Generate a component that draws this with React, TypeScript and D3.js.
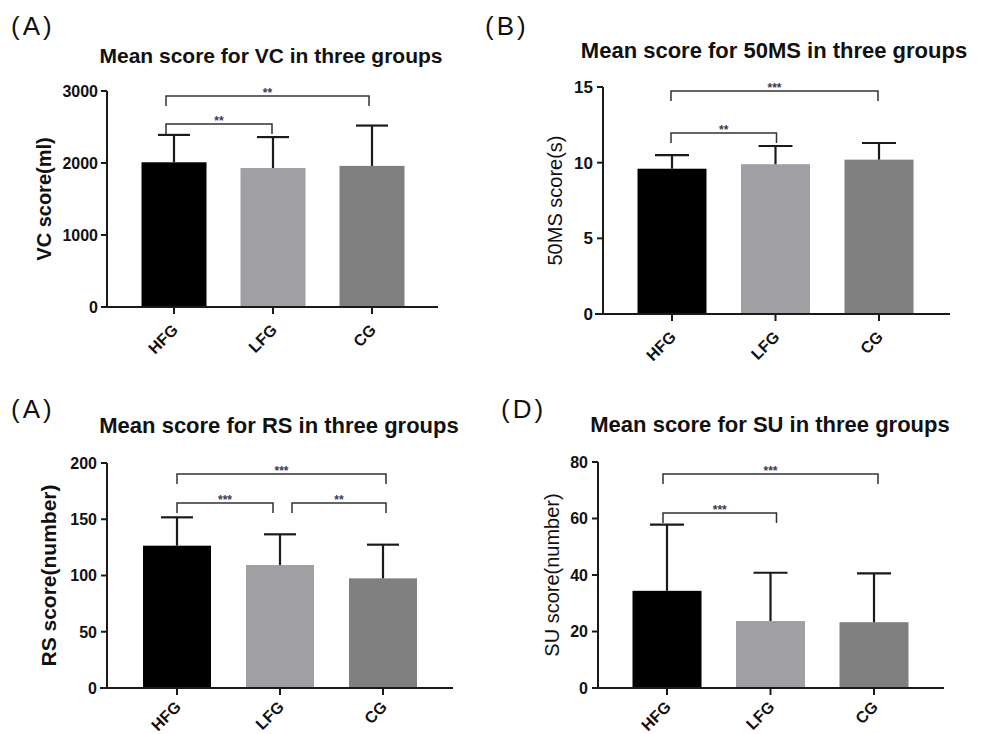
import * as d3 from 'd3';

const groups = ['HFG', 'LFG', 'CG'];
const barColors = ['#000000', '#a0a0a4', '#808080'];

const vcMean = [2010, 1930, 1960];
const vcSD = [380, 430, 560];
const vcTicks = [0, 1000, 2000, 3000];
const vcSig = [{ a: 0, b: 1, stars: '**' }, { a: 0, b: 2, stars: '**' }];

const msMean = [9.6, 9.9, 10.2];
const msSD = [0.9, 1.2, 1.1];
const msTicks = [0, 5, 10, 15];
const msSig = [{ a: 0, b: 1, stars: '**' }, { a: 0, b: 2, stars: '***' }];

const rsMean = [126.5, 109.3, 97.5];
const rsSD = [25.2, 27.3, 29.9];
const rsTicks = [0, 50, 100, 150, 200];
const rsSig = [
  { a: 0, b: 1, stars: '***' },
  { a: 1, b: 2, stars: '**' },
  { a: 0, b: 2, stars: '***' },
];

const suMean = [34.4, 23.7, 23.3];
const suSD = [23.4, 17.1, 17.3];
const suTicks = [0, 20, 40, 60, 80];
const suSig = [{ a: 0, b: 1, stars: '***' }, { a: 0, b: 2, stars: '***' }];

const FONT = 'Liberation Sans, Arial, sans-serif';
const INK = '#1a1a1a';

function Panel({ cfg }) {
  const { mean, sd, ticks, sig, lay } = cfg;
  const y = d3.scaleLinear().domain([0, ticks[ticks.length - 1]]).range([lay.yBottom, lay.yTop]);
  const x = d3.scalePoint().domain(groups).range(lay.centers);

  return (
    <g>
      <text x={lay.tagX} y={lay.tagY} fontFamily={FONT} fontSize={26} fill="#111" letterSpacing={3}>
        {cfg.tag}
      </text>
      <text x={lay.titleX} y={lay.titleY} textAnchor="middle" fontFamily={FONT}
        fontWeight="bold" fontSize={lay.titleSize} fill="#111">
        {cfg.title}
      </text>
      <text transform={`translate(${lay.ylabX},${(lay.yTop + lay.yBottom) / 2}) rotate(-90)`}
        textAnchor="middle" fontFamily={FONT} fontSize={lay.ylabSize}
        fontWeight={lay.ylabBold ? 'bold' : 'normal'} fill="#111">
        {cfg.ylabel}
      </text>

      {groups.map((g, i) => {
        const cx = x(g);
        return (
          <g key={g}>
            <rect x={cx - lay.barW / 2} y={y(mean[i])} width={lay.barW}
              height={y(0) - y(mean[i])} fill={barColors[i]} />
            <line x1={cx} x2={cx} y1={y(mean[i])} y2={y(mean[i] + sd[i])} stroke={INK} strokeWidth={2.2} />
            <line x1={cx - lay.cap} x2={cx + lay.cap} y1={y(mean[i] + sd[i])} y2={y(mean[i] + sd[i])}
              stroke={INK} strokeWidth={2.2} />
          </g>
        );
      })}

      {/* axes */}
      <line x1={lay.axisX} x2={lay.axisX} y1={y.range()[1]} y2={y(0)} stroke={INK} strokeWidth={2} />
      <line x1={lay.xLeft} x2={lay.xRight} y1={y(0)} y2={y(0)} stroke={INK} strokeWidth={2} />
      {ticks.map((t) => (
        <g key={t}>
          <line x1={lay.axisX - 6} x2={lay.axisX} y1={y(t)} y2={y(t)} stroke={INK} strokeWidth={2} />
          <text x={lay.axisX - lay.tickPad} y={y(t)} dy="0.36em" textAnchor="end" fontFamily={FONT}
            fontWeight="bold" fontSize={lay.tickSize} fill="#111">
            {t}
          </text>
        </g>
      ))}
      {groups.map((g) => (
        <g key={g}>
          <line x1={x(g)} x2={x(g)} y1={y(0)} y2={y(0) + 7} stroke={INK} strokeWidth={2} />
          <text transform={`translate(${x(g) + 5},${y(0) + lay.xlabDy}) rotate(-45)`} textAnchor="end"
            fontFamily={FONT} fontWeight="bold" fontSize={16} fill="#111">
            {g}
          </text>
        </g>
      ))}

      {/* significance brackets */}
      {sig.map((s, k) => {
        const b = lay.brackets[k];
        const x0 = x(groups[s.a]) + b.dx0;
        const x1 = x(groups[s.b]) + b.dx1;
        const by = b.y;
        return (
          <g key={k}>
            <path d={`M${x0},${by + 10}V${by}H${x1}V${by + 10}`} fill="none" stroke="#333" strokeWidth={1.5} />
            <text x={(x0 + x1) / 2} y={by + 1} textAnchor="middle" fontFamily={FONT}
              fontWeight="bold" fontSize={12} fill="#3a3a55">
              {s.stars}
            </text>
          </g>
        );
      })}
    </g>
  );
}

const panels = [
  {
    tag: '(A)', title: 'Mean score for VC in three groups', ylabel: 'VC score(ml)',
    mean: vcMean, sd: vcSD, ticks: vcTicks, sig: vcSig,
    lay: {
      tagX: 11, tagY: 35, titleX: 271, titleY: 63, titleSize: 21,
      ylabX: 51, ylabSize: 20, ylabBold: true, xlabDy: 24,
      axisX: 107, yTop: 91, yBottom: 307, xLeft: 101, xRight: 438,
      centers: [174, 372], barW: 65, cap: 16, tickPad: 9, tickSize: 16,
      brackets: [{ y: 124, dx0: -8, dx1: -1 }, { y: 96, dx0: -8, dx1: -3 }],
    },
  },
  {
    tag: '(B)', title: 'Mean score for 50MS in three groups', ylabel: '50MS score(s)',
    mean: msMean, sd: msSD, ticks: msTicks, sig: msSig,
    lay: {
      tagX: 485, tagY: 35, titleX: 774, titleY: 58, titleSize: 22,
      ylabX: 562, ylabSize: 20, ylabBold: false, xlabDy: 24,
      axisX: 603, yTop: 87, yBottom: 314, xLeft: 595, xRight: 950,
      centers: [672, 879], barW: 69, cap: 17, tickPad: 10, tickSize: 17,
      brackets: [{ y: 133, dx0: -1, dx1: 1 }, { y: 91, dx0: -1, dx1: -1 }],
    },
  },
  {
    tag: '(A)', title: 'Mean score for RS in three groups', ylabel: 'RS score(number)',
    mean: rsMean, sd: rsSD, ticks: rsTicks, sig: rsSig,
    lay: {
      tagX: 11, tagY: 418, titleX: 279, titleY: 433, titleSize: 22,
      ylabX: 56, ylabSize: 21, ylabBold: true, xlabDy: 20,
      axisX: 107, yTop: 463, yBottom: 688, xLeft: 100, xRight: 453,
      centers: [177, 383], barW: 68, cap: 16, tickPad: 10, tickSize: 16,
      brackets: [{ y: 503, dx0: 0, dx1: -7 }, { y: 503, dx0: 12, dx1: 3 }, { y: 474, dx0: 0, dx1: 3 }],
    },
  },
  {
    tag: '(D)', title: 'Mean score for SU in three groups', ylabel: 'SU score(number)',
    mean: suMean, sd: suSD, ticks: suTicks, sig: suSig,
    lay: {
      tagX: 501, tagY: 418, titleX: 770, titleY: 432, titleSize: 22,
      ylabX: 559, ylabSize: 20, ylabBold: false, xlabDy: 20,
      axisX: 598, yTop: 462, yBottom: 688, xLeft: 592, xRight: 944,
      centers: [667, 874], barW: 69, cap: 17, tickPad: 10, tickSize: 16,
      brackets: [{ y: 513, dx0: -4, dx1: 6 }, { y: 474, dx0: -4, dx1: 4 }],
    },
  },
];

export default function App() {
  return (
    <svg width={982} height={734} style={{ position: 'absolute', left: 0, top: 0, background: '#fff' }}>
      <rect width={982} height={734} fill="#fff" />
      {panels.map((p, i) => (
        <Panel key={i} cfg={p} />
      ))}
    </svg>
  );
}
